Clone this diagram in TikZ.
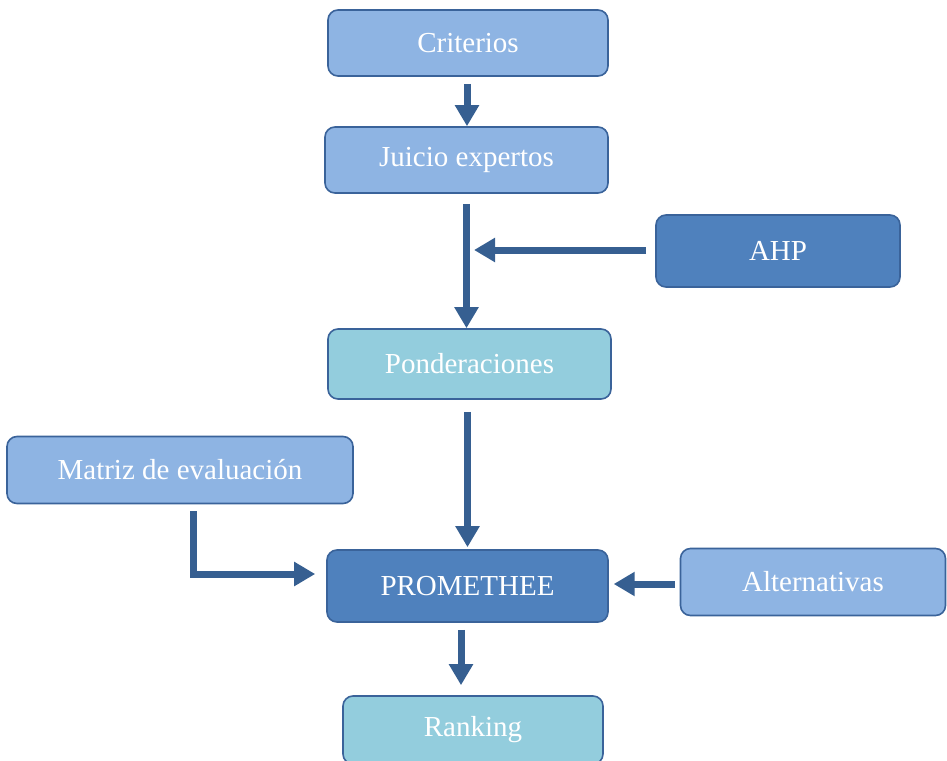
\documentclass[tikz,border=0pt]{standalone}
\usepackage{fontspec}
\setmainfont{Liberation Serif}
\usetikzlibrary{arrows.meta}
\definecolor{clarito}{HTML}{8EB4E3}
\definecolor{medio}{HTML}{4F81BD}
\definecolor{turquesa}{HTML}{93CDDD}
\definecolor{borde}{HTML}{3A639A}
\definecolor{flechac}{HTML}{365F91}
\tikzset{
  % a process box
  caja/.style    = {draw=borde, line width=1.6pt, rounded corners=10pt,
                    text=white, font=\fontsize{29}{33}\selectfont,
                    inner sep=0pt},
  % the three fills
  claro/.style   = {caja, fill=clarito},
  oscuro/.style  = {caja, fill=medio},
  agua/.style    = {caja, fill=turquesa},
  % a fat block arrow
  flecha/.style  = {-{Triangle[length=21pt,width=23pt]}, line width=7pt,
                    draw=flechac},
}
\begin{document}
\begin{tikzpicture}[x=1pt, y=-1pt]
  \useasboundingbox (0,0) rectangle (947,760);
  % --- the main column ---
  \node[claro,  minimum width=280pt, minimum height=66pt] (crit) at (468,43)    {Criterios};
  \node[claro,  minimum width=283pt, minimum height=66pt] (juic) at (466.5,160) {Juicio expertos};
  \node[agua,   minimum width=283pt, minimum height=70pt] (pond) at (469.5,364) {Ponderaciones};
  \node[oscuro, minimum width=281pt, minimum height=72pt] (prom) at (467.5,586) {PROMETHEE};
  \node[agua,   minimum width=260pt, minimum height=68pt] (rank) at (473,730)   {Ranking};
  % --- inputs from the sides ---
  \node[oscuro, minimum width=244pt, minimum height=72pt] (ahp)  at (778,251)   {AHP};
  \node[claro,  minimum width=346pt, minimum height=67pt] (matr) at (180,470)   {Matriz de evaluaci\'on};
  \node[claro,  minimum width=265pt, minimum height=67pt] (alte) at (813,582)   {Alternativas};
  % --- where the side arrows end ---
  \coordinate (ahpfin) at (474,250);
  \coordinate (codo)   at (193,574);
  % --- arrows ---
  \draw[flecha] ([xshift=-1pt]crit.south) ++(0,7) -- ([xshift=-1pt]crit.south |- juic.north);
  \draw[flecha] ([yshift=-10pt]juic.south) -- (juic.south |- pond.north);
  \draw[flecha] ([xshift=-9pt]ahp.west |- ahpfin) -- (ahpfin);
  \draw[flecha] ([yshift=-12pt]pond.south -| prom.north) -- ([yshift=2pt]prom.north);
  \draw[flecha] ([yshift=-7pt]matr.south -| codo) -- (codo) -- ([xshift=-11pt]prom.west |- codo);
  \draw[flecha] ([xshift=-5pt]alte.west |- prom.east) ++(0,-2) -- ++(-61,0);
  \draw[flecha] ([xshift=-6.5pt,yshift=-7pt]prom.south) -- ([xshift=-12pt,yshift=10pt]rank.north);
\end{tikzpicture}
\end{document}
